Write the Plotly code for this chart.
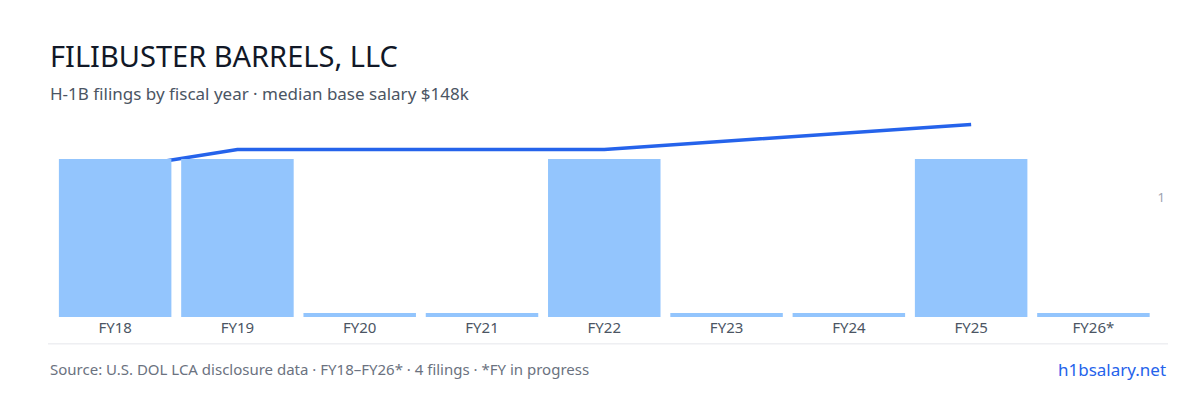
import plotly.graph_objects as go

# data
years = ["FY18", "FY19", "FY20", "FY21", "FY22", "FY23", "FY24", "FY25", "FY26*"]
filings = [1, 1, 0, 0, 1, 0, 0, 1, 0]
median_salary_k = [113, 128, None, None, 128, None, None, 147, None]

stub = 0.025  # draw empty years as a thin sliver
bar_heights = [f if f > 0 else stub for f in filings]

fig = go.Figure()

fig.add_trace(go.Bar(
    x=years, y=bar_heights, yaxis="y2",
    marker_color="#93c5fd", marker_line_width=0,
    hoverinfo="skip", showlegend=False
))

fig.add_trace(go.Scatter(
    x=years, y=median_salary_k, mode="lines", connectgaps=True,
    line=dict(color="#2563eb", width=3.5),
    showlegend=False
))

fig.update_layout(
    width=1200, height=400,
    margin=dict(l=40, r=40, t=110, b=91, autoexpand=False),
    plot_bgcolor="white", paper_bgcolor="white",
    font=dict(family="Noto Sans", color="#6b7280"),
    bargap=0.08,
    xaxis=dict(showgrid=False, showline=False, ticks="", automargin=False,
               tickfont=dict(size=15, color="#4b5563")),
    yaxis=dict(range=[0, 152], tickvals=[148], ticktext=["$148k"], automargin=False,
               ticklabelposition="inside top", showgrid=False, zeroline=False,
               tickfont=dict(size=13, color="#6b7280")),
    yaxis2=dict(range=[0, 1.26], overlaying="y", side="right", automargin=False,
                tickvals=[0.76, 1.21], ticktext=["1", "1"],
                ticklabelposition="inside", showgrid=False, zeroline=False,
                tickfont=dict(size=13, color="#9ca3af")),
    shapes=[dict(type="line", xref="paper", yref="paper", x0=0, x1=1,
                 y0=-0.135, y1=-0.135, line=dict(color="#e5e7eb", width=1))],
    annotations=[
        dict(text="FILIBUSTER BARRELS, LLC", xref="paper", yref="paper",
             x=0, y=1.0, yshift=63, xanchor="left", yanchor="middle", showarrow=False,
             font=dict(size=29, color="#111827")),
        dict(text="H-1B filings by fiscal year · median base salary $148k", xref="paper",
             yref="paper", x=0, y=1.0, yshift=25, xanchor="left", yanchor="middle",
             showarrow=False, font=dict(size=17, color="#4b5563")),
        dict(text="Source: U.S. DOL LCA disclosure data · FY18–FY26* · 4 filings · *FY in progress",
             xref="paper", yref="paper", x=0, y=0, yshift=-52, xanchor="left",
             yanchor="middle", showarrow=False, font=dict(size=15, color="#6b7280")),
        dict(text="h1bsalary.net", xref="paper", yref="paper", x=1, y=0, yshift=-52,
             xanchor="right", yanchor="middle", showarrow=False,
             font=dict(size=17, color="#2563eb")),
    ],
)

fig.write_html("out.html")
